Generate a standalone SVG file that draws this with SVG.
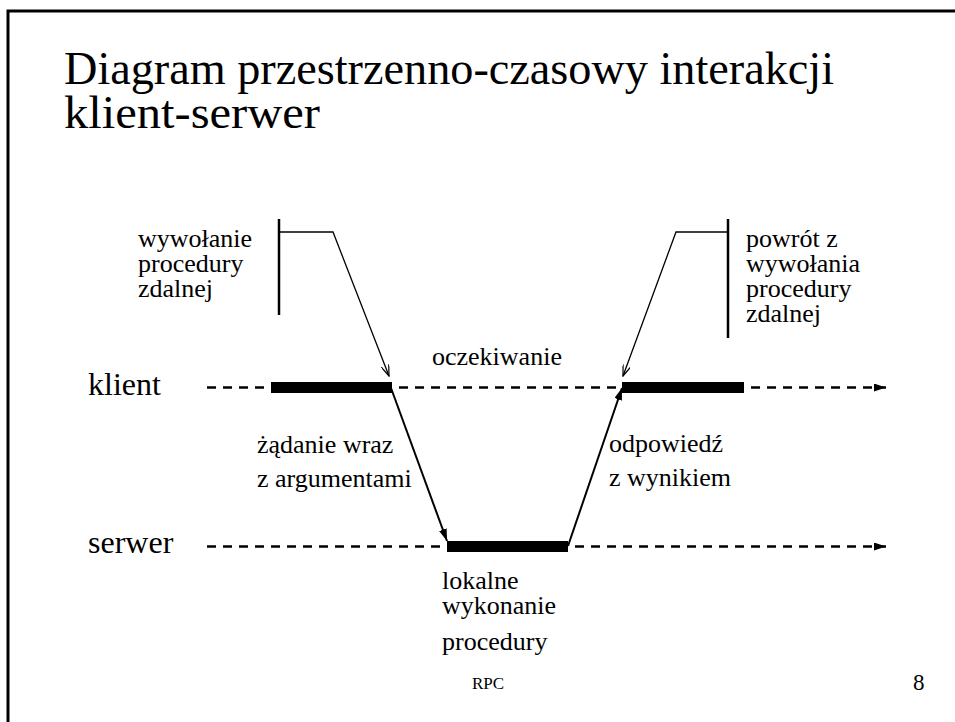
<svg xmlns="http://www.w3.org/2000/svg" width="955" height="722" viewBox="0 0 955 722">
<style>
.t{font-family:"Liberation Serif","Times New Roman",serif;fill:#000}
.title{font-size:46px}
.lbl{font-size:32px}
.body{font-size:26px}
.small{font-size:17px}
.num{font-size:23px}
.dash{stroke:#000;stroke-width:2.5;stroke-dasharray:9 7;fill:none}
.bar{fill:#000}
.thin{stroke:#000;stroke-width:1.3;fill:none}
.msg{stroke:#000;stroke-width:2;fill:none}
.vert{stroke:#000;stroke-width:2.5}
</style>
<defs>
<marker id="fill" viewBox="0 0 12 8" refX="12" refY="4" markerWidth="12" markerHeight="8" orient="auto" markerUnits="userSpaceOnUse"><path d="M0,0 L12,4 L0,8 z" fill="#000"/></marker>
<marker id="open" viewBox="0 0 12 8" refX="11" refY="4" markerWidth="12" markerHeight="8" orient="auto" markerUnits="userSpaceOnUse"><path d="M0,0 L11,4 L0,8" fill="none" stroke="#000" stroke-width="1.2"/></marker>
</defs>
<rect width="955" height="722" fill="#fff"/>
<path d="M8 722 V11 H955" fill="none" stroke="#000" stroke-width="3"/>
<g id="title">
<text class="t title" x="64" y="84" textLength="770" lengthAdjust="spacingAndGlyphs">Diagram przestrzenno-czasowy interakcji</text>
<text class="t title" x="64" y="128" textLength="256" lengthAdjust="spacingAndGlyphs">klient-serwer</text>
</g>
<g id="klient">
<text class="t lbl" x="88" y="395">klient</text>
<line class="dash" x1="207" y1="387.5" x2="886" y2="387.5" marker-end="url(#fill)"/>
<rect class="bar" x="271" y="382" width="121" height="11"/>
<rect class="bar" x="622" y="382" width="122" height="11"/>
</g>
<g id="serwer">
<text class="t lbl" x="88" y="553">serwer</text>
<line class="dash" x1="207" y1="546.5" x2="886" y2="546.5" marker-end="url(#fill)"/>
<rect class="bar" x="447" y="541" width="121" height="11"/>
</g>
<g id="connectors">
<line class="msg" x1="391" y1="388" x2="447" y2="541" marker-end="url(#fill)"/>
<line class="msg" x1="568" y1="546" x2="622" y2="388" marker-end="url(#fill)"/>
<line class="vert" x1="279" y1="219" x2="279" y2="315"/>
<polyline class="thin" points="279,232 333,232 389,376" marker-end="url(#open)"/>
<line class="vert" x1="728" y1="219" x2="728" y2="338"/>
<polyline class="thin" points="728,232 676,232 623,376" marker-end="url(#open)"/>
</g>
<g id="call">
<text class="t body" x="138" y="247">wywołanie</text>
<text class="t body" x="138" y="272">procedury</text>
<text class="t body" x="138" y="297">zdalnej</text>
</g>
<g id="return">
<text class="t body" x="746" y="247">powrót z</text>
<text class="t body" x="746" y="272">wywołania</text>
<text class="t body" x="746" y="297">procedury</text>
<text class="t body" x="746" y="322">zdalnej</text>
</g>
<g id="wait">
<text class="t body" x="432" y="365">oczekiwanie</text>
</g>
<g id="request">
<text class="t body" x="257" y="453">żądanie wraz</text>
<text class="t body" x="257" y="487">z argumentami</text>
</g>
<g id="response">
<text class="t body" x="609" y="452">odpowiedź</text>
<text class="t body" x="609" y="486">z wynikiem</text>
</g>
<g id="local">
<text class="t body" x="442" y="589">lokalne</text>
<text class="t body" x="442" y="614">wykonanie</text>
<text class="t body" x="442" y="650">procedury</text>
</g>
<g id="footer">
<text class="t small" x="472" y="689">RPC</text>
<text class="t num" x="913" y="690">8</text>
</g>
</svg>
